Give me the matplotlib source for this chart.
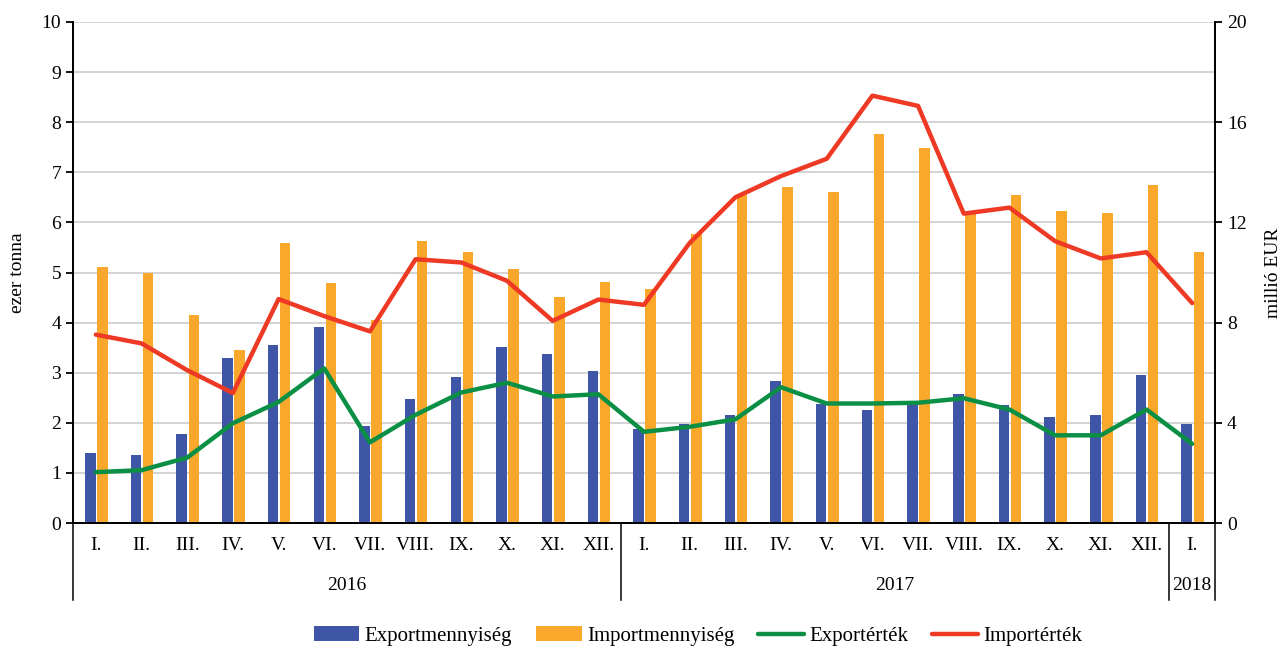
import numpy as np
import matplotlib.pyplot as plt
import matplotlib.transforms as mtransforms

plt.rcParams['font.family'] = ['Liberation Serif', 'DejaVu Serif']

# Data
months = ['I.', 'II.', 'III.', 'IV.', 'V.', 'VI.', 'VII.', 'VIII.', 'IX.', 'X.', 'XI.', 'XII.',
          'I.', 'II.', 'III.', 'IV.', 'V.', 'VI.', 'VII.', 'VIII.', 'IX.', 'X.', 'XI.', 'XII.',
          'I.']
years = ['2016', '2017', '2018']
year_lengths = [12, 12, 1]

export_qty = [1.39, 1.35, 1.77, 3.29, 3.56, 3.91, 1.94, 2.47, 2.92, 3.52, 3.38, 3.03,
              1.87, 1.98, 2.15, 2.83, 2.37, 2.26, 2.43, 2.57, 2.36, 2.11, 2.15, 2.96,
              1.98]
import_qty = [5.10, 4.99, 4.16, 3.46, 5.59, 4.79, 4.05, 5.62, 5.41, 5.07, 4.51, 4.81,
              4.68, 5.76, 6.55, 6.71, 6.61, 7.77, 7.48, 6.17, 6.54, 6.22, 6.19, 6.74,
              5.41]
export_val = [2.03, 2.11, 2.61, 3.98, 4.83, 6.17, 3.22, 4.32, 5.21, 5.60, 5.05, 5.14,
              3.64, 3.84, 4.14, 5.42, 4.77, 4.77, 4.80, 4.98, 4.53, 3.50, 3.50, 4.53,
              3.16]
import_val = [7.52, 7.17, 6.10, 5.19, 8.94, 8.26, 7.65, 10.53, 10.40, 9.67, 8.07, 8.92,
              8.71, 11.18, 13.00, 13.85, 14.54, 17.06, 16.65, 12.35, 12.59, 11.25, 10.56, 10.81,
              8.78]

c_exp_bar = '#3F55A5'
c_imp_bar = '#F9A82B'
c_exp_line = '#0A8F45'
c_imp_line = '#EE3A24'

x = np.arange(len(months))

fig = plt.figure(figsize=(12.84, 6.49), dpi=100)
ax = fig.add_axes([73/1284, 1-523/649, (1215-73)/1284, 501/649])
ax2 = ax.twinx()

w = 0.23
b1 = ax.bar(x - 0.12, export_qty, width=w, color=c_exp_bar, label='Exportmennyiség', zorder=2)
b2 = ax.bar(x + 0.145, import_qty, width=w, color=c_imp_bar, label='Importmennyiség', zorder=2)
l1, = ax2.plot(x, export_val, color=c_exp_line, lw=3.2, label='Exportérték', solid_capstyle='round')
l2, = ax2.plot(x, import_val, color=c_imp_line, lw=3.2, label='Importérték', solid_capstyle='round')

ax.set_xlim(-0.5, len(months) - 0.5)
ax.set_ylim(0, 10)
ax.set_yticks(range(0, 11))
ax2.set_ylim(0, 20)
ax2.set_yticks(range(0, 21, 4))

ax.yaxis.grid(True, color='#D0D0D0', lw=1.3, zorder=0)
ax.set_axisbelow(True)

for a in (ax, ax2):
    a.spines['top'].set_visible(False)
    for s in ('left', 'right', 'bottom'):
        a.spines[s].set_linewidth(1.3)
    a.tick_params(axis='y', labelsize=14, length=5, width=1.3, direction='out')

ax.set_xticks([])

# axis titles
yc = 1 - 272.5 / 649
fig.text(18/1284, yc, 'ezer tonna', rotation=90, ha='center', va='center', fontsize=14)
fig.text(1273/1284, yc, 'millió EUR', rotation=90, ha='center', va='center', fontsize=14)

# Multi-level category axis
trans = mtransforms.blended_transform_factory(ax.transData, ax.transAxes)
for i, m in enumerate(months):
    ax.text(i, -0.044, m, transform=trans, ha='center', va='center', fontsize=14, clip_on=False)

start = 0
bounds = [-0.5]
for yr, n in zip(years, year_lengths):
    ax.text(start + n / 2 - 0.5, -0.124, yr, transform=trans, ha='center', va='center',
            fontsize=14, clip_on=False)
    start += n
    bounds.append(start - 0.5)
for bx in bounds:
    ax.plot([bx, bx], [0, -0.154], transform=trans, color='black', lw=1.1, clip_on=False)

fig.legend(handles=[b1, b2, l1, l2], loc='center', bbox_to_anchor=(0.5436, 0.02),
           ncol=4, frameon=False, fontsize=15, handlelength=2.2, columnspacing=1.15,
           handletextpad=0.25)

fig.savefig('out.png', dpi=100)
